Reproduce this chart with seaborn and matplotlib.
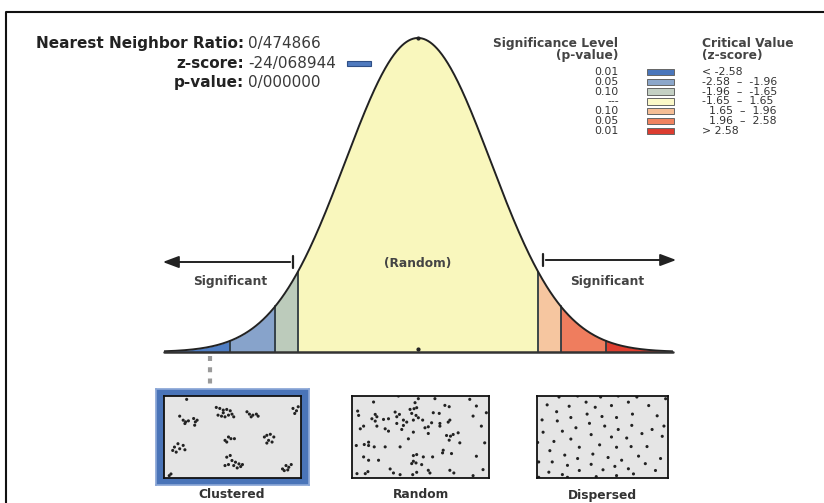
import numpy as np
import pandas as pd
import matplotlib
matplotlib.use("Agg")
import matplotlib.pyplot as plt
from matplotlib.patches import Rectangle
import seaborn as sns

# Report values
ratio_text = "0/474866"
zscore_text = "-24/068944"
pvalue_text = "0/000000"

# Critical values (z) splitting the curve into bands
crit_z = [-3.5, -2.58, -1.96, -1.65, 1.65, 1.96, 2.58, 3.5]
band_colors = ["#4f7ec4", "#87a3cb", "#bccbbb", "#f9f7bd", "#f6c6a0", "#ef7d5e", "#df3f30"]

# Legend rows
legend_p = ["0.01", "0.05", "0.10", "---", "0.10", "0.05", "0.01"]
legend_z = ["< -2.58", "-2.58  \u2013  -1.96", "-1.96  \u2013  -1.65", "-1.65  \u2013  1.65",
            "  1.65  \u2013  1.96", "  1.96  \u2013  2.58", "> 2.58"]
legend_colors = ["#4a76bb", "#8ba6ca", "#c4d0c4", "#fbf8c8", "#f5bd95", "#f0825f", "#dc3c30"]

pattern_labels = ["Clustered", "Random", "Dispersed"]

# dot positions (zoomed pixel units)
clustered_x = [75, 85, 92, 100, 115, 120, 118, 125, 90,
               180, 190, 200, 210, 220, 185, 195, 205, 215, 225, 200, 230,
               268, 275, 285, 295, 300, 280,
               400, 410, 405, 415, 95,
               60, 70, 75, 85, 90, 65, 55,
               205, 215, 222, 232, 210,
               318, 325, 335, 345, 330, 340, 325,
               210, 220, 225, 235, 245, 255, 230, 240, 215, 205, 250,
               370, 380, 388, 395, 375, 385, 45, 50]
clustered_y = [78, 90, 95, 92, 85, 95, 105, 90, 100,
               52, 55, 60, 58, 62, 75, 78, 80, 75, 72, 68, 80,
               65, 72, 75, 72, 78, 80,
               55, 62, 70, 50, 28,
               170, 160, 175, 165, 178, 185, 180,
               150, 140, 145, 145, 155,
               140, 135, 132, 140, 150, 155, 158,
               200, 195, 210, 215, 220, 222, 225, 232, 222, 225, 228,
               235, 225, 230, 222, 240, 238, 255, 250]

random_x = [120, 195, 255, 305, 245, 72, 75, 125, 130, 185, 198, 190, 230, 242, 250,
            235, 248, 255, 300, 318, 335, 348, 115, 125, 150, 165, 210, 220, 240, 268,
            295, 320, 350, 345, 90, 80, 130, 155, 165, 190, 205, 210, 275, 285, 320,
            240, 285, 340, 352, 360, 375, 348, 225, 380, 68, 92, 105, 105, 122, 155,
            200, 330, 328, 355, 90, 105, 135, 240, 250, 270, 298, 240, 235, 248, 265,
            170, 180, 200, 238, 250, 285, 290, 350, 362, 70, 95, 103,
            410, 430, 420, 445, 455, 430, 450, 420, 460]
random_y = [28, 10, 18, 18, 30, 55, 68, 65, 72, 58, 65, 72, 50, 48, 45,
            62, 68, 75, 60, 62, 38, 42, 78, 85, 80, 78, 82, 88, 82, 82,
            90, 92, 82, 88, 100, 108, 100, 108, 115, 92, 110, 98, 105, 102, 100,
            118, 122, 128, 130, 125, 120, 142, 138, 150, 158, 155, 158, 148, 162, 162,
            162, 172, 180, 182, 192, 202, 202, 188, 185, 192, 192, 205, 212, 210, 215,
            228, 240, 245, 245, 238, 232, 240, 232, 240, 242, 242, 236,
            20, 40, 70, 100, 150, 190, 230, 248, 60]

dispersed_x = [155, 210, 278, 330, 385, 120, 185, 235, 262, 310, 360, 148, 105, 190,
               238, 282, 325, 372, 150, 205, 245, 290, 330, 370, 108, 165, 250, 310,
               355, 92, 140, 190, 215, 275, 325, 368, 128, 172, 255, 300, 340, 390,
               95, 135, 180, 210, 250, 285, 320, 360, 125, 165, 215, 265, 325, 375,
               95, 180, 420, 445, 430, 460, 415, 455, 440, 470, 465, 400, 410]
dispersed_y = [15, 12, 15, 12, 15, 38, 42, 30, 45, 40, 30, 58, 82, 75,
               65, 72, 75, 65, 85, 105, 92, 100, 110, 98, 118, 115, 125, 132,
               135, 148, 145, 138, 162, 155, 162, 160, 172, 185, 182, 192, 200, 188,
               205, 205, 215, 195, 212, 228, 218, 225, 235, 242, 230, 248, 245, 240,
               250, 250, 40, 70, 110, 130, 160, 195, 230, 20, 100, 122, 210]

# ---------------- PLOTTING ----------------
sns.set_theme(style="white")
plt.rcParams["font.family"] = ["DejaVu Sans"]

W, H = 824, 503
fig = plt.figure(figsize=(W / 100, H / 100), dpi=100)
fig.patch.set_facecolor("white")


def px_axes(x0, y0, x1, y1):
    # axes placed with pixel coords (origin top-left)
    return fig.add_axes([x0 / W, 1 - y1 / H, (x1 - x0) / W, (y1 - y0) / H])


# bell curve
ax = px_axes(163.5, 21.4, 672.5, 352)
z = np.linspace(-3.5, 3.5, 701)
curve = pd.DataFrame({"z": z, "pdf": np.exp(-z ** 2 / 2) / np.sqrt(2 * np.pi)})
for lo, hi, col in zip(crit_z[:-1], crit_z[1:], band_colors):
    seg = curve[(curve["z"] >= lo - 1e-9) & (curve["z"] <= hi + 1e-9)]
    ax.fill_between(seg["z"], 0, seg["pdf"], color=col, lw=0)
for c in crit_z[1:-1]:
    ax.plot([c, c], [0, np.exp(-c ** 2 / 2) / np.sqrt(2 * np.pi)], color="#2f3a40", lw=1.3)
sns.lineplot(data=curve, x="z", y="pdf", ax=ax, color="#222222", lw=1.4)
ax.plot([-3.5, 3.5], [0, 0], color="#333333", lw=1.8, clip_on=False)
ax.plot([0], [0.3989], marker="o", ms=2, color="#222222")
ax.plot([0], [0.004], marker="o", ms=2, color="#222222")
ax.set_xlim(-3.5, 3.5)
ax.set_ylim(0, 0.42)
ax.axis("off")

# pattern thumbnails
panels = [
    ((164, 396, 301, 478), clustered_x, clustered_y, (30, 423), (262, 18)),
    ((352, 396, 489, 478), random_x, random_y, (55, 468), (255, 10)),
    ((537, 396, 668, 478), dispersed_x, dispersed_y, (90, 477), (252, 12)),
]
frame = px_axes(156, 389, 309, 485)
frame.set_facecolor("#4a74b8")
frame.set_xticks([])
frame.set_yticks([])
for s in frame.spines.values():
    s.set_color("#8aa6d6")
for (x0, y0, x1, y1), xs, ys, xl, yl in panels:
    pa = px_axes(x0, y0, x1, y1)
    pa.set_facecolor("#e5e5e5")
    sns.scatterplot(x=xs, y=ys, ax=pa, s=5, color="#222222", edgecolor="none")
    pa.set_xlim(*xl)
    pa.set_ylim(*yl)
    pa.set_xticks([])
    pa.set_yticks([])
    for s in pa.spines.values():
        s.set_color("#111111")
        s.set_linewidth(1.3)

# overlay for text and annotations
ov = fig.add_axes([0, 0, 1, 1], zorder=10)
ov.set_xlim(0, W)
ov.set_ylim(H, 0)
ov.axis("off")
ov.patch.set_visible(False)

# outer frame
ov.plot([6, 6, W], [H, 12, 12], color="#111111", lw=1.5)

# header
lab_kw = dict(fontsize=11, fontweight="bold", color="#222222", ha="right", va="center")
val_kw = dict(fontsize=11, color="#3a3a3a", ha="left", va="center")
ov.text(244, 43, "Nearest Neighbor Ratio:", **lab_kw)
ov.text(248, 43, ratio_text, **val_kw)
ov.text(244, 63, "z-score:", **lab_kw)
ov.text(248, 63, zscore_text, **val_kw)
ov.text(244, 82, "p-value:", **lab_kw)
ov.text(248, 82, pvalue_text, **val_kw)
ov.add_patch(Rectangle((347, 60.5), 24, 5, facecolor="#4f7abf", edgecolor="#2f4f86", lw=0.8))

# legend
leg_kw = dict(fontsize=8.8, fontweight="bold", color="#444444", va="center")
ov.text(618, 43, "Significance Level", ha="right", **leg_kw)
ov.text(618, 55, "(p-value)", ha="right", **leg_kw)
ov.text(702, 43, "Critical Value", ha="left", **leg_kw)
ov.text(702, 55, "(z-score)", ha="left", **leg_kw)
for i, (p, zt, col) in enumerate(zip(legend_p, legend_z, legend_colors)):
    yy = 72 + i * 9.8
    ov.text(619, yy, p, fontsize=7.8, color="#333333", ha="right", va="center")
    ov.add_patch(Rectangle((647, yy - 3.2), 27, 6.4, facecolor=col, edgecolor="#666666", lw=0.7))
    ov.text(702, yy, zt, fontsize=7.8, color="#333333", ha="left", va="center")

# significance arrows
arr = dict(arrowstyle="-|>,head_length=0.8,head_width=0.3", color="#222222", lw=1.4)
ov.annotate("", xy=(160, 262), xytext=(293, 262), arrowprops=arr)
ov.plot([293, 293], [256, 268], color="#222222", lw=1.6)
ov.annotate("", xy=(679, 260), xytext=(543, 260), arrowprops=arr)
ov.plot([543, 543], [254, 266], color="#222222", lw=1.6)
sig_kw = dict(fontsize=8.8, fontweight="bold", color="#444444", ha="center", va="center")
ov.text(230, 282, "Significant", **sig_kw)
ov.text(607, 282, "Significant", **sig_kw)
ov.text(418, 263, "(Random)", **sig_kw)

# dotted link to the clustered thumbnail
ov.plot([210, 210], [356, 388], color="#9a9a9a", lw=3, linestyle=(0, (1.2, 1.5)))

# thumbnail labels
for lx, txt in zip([232, 421, 602], pattern_labels):
    ov.text(lx, 495, txt, fontsize=8.8, fontweight="bold", color="#333333", ha="center", va="center")

plt.savefig("out.png", dpi=100)
plt.close()
